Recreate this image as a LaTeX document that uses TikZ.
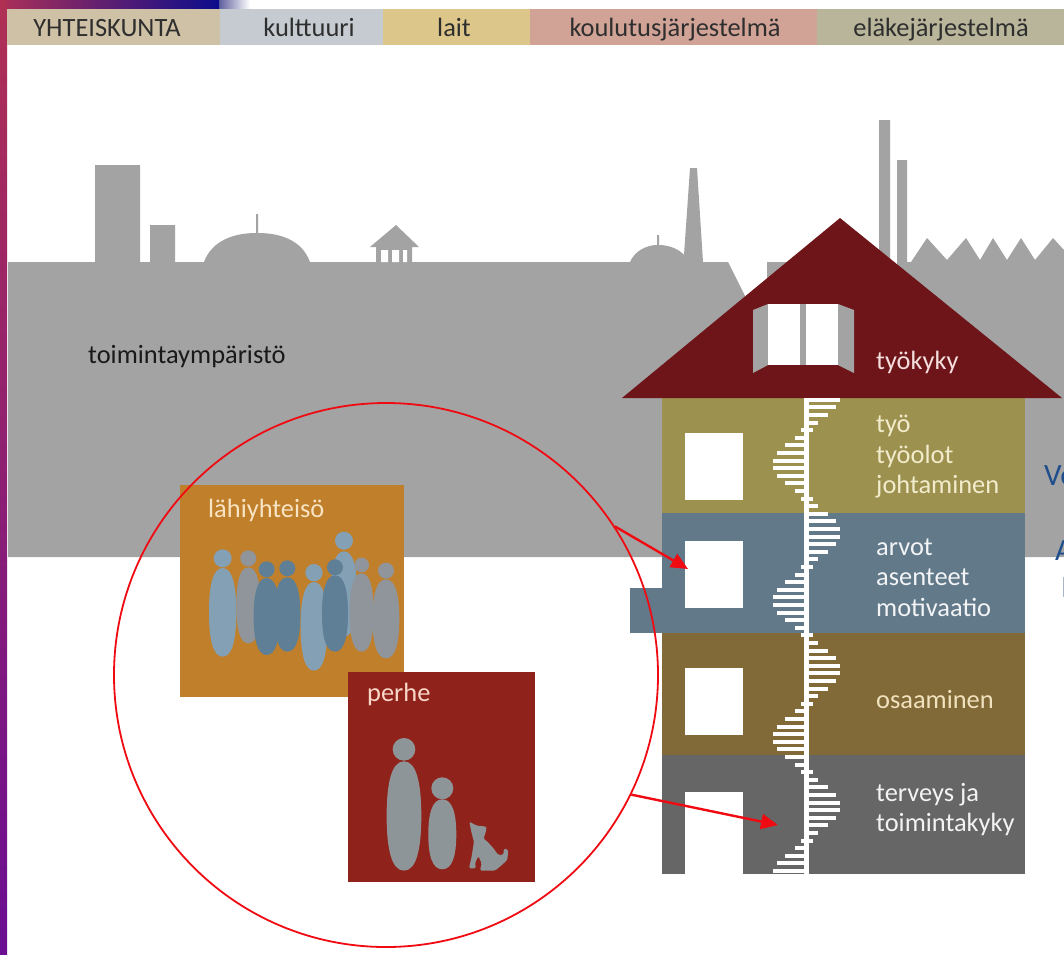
\documentclass[tikz,border=0pt]{standalone}
\usepackage{fontspec}
\setmainfont{Carlito}
\usetikzlibrary{arrows.meta}
\definecolor{sky}{HTML}{A3A3A3}
\definecolor{roofc}{HTML}{6D1519}
\definecolor{bandA}{HTML}{9C914F}
\definecolor{bandB}{HTML}{62798A}
\definecolor{bandC}{HTML}{826A38}
\definecolor{bandD}{HTML}{666666}
\definecolor{orangebox}{HTML}{C07F2B}
\definecolor{redbox}{HTML}{8F231B}
\definecolor{figL}{HTML}{84A0B4}
\definecolor{figG}{HTML}{8F959B}
\definecolor{figD}{HTML}{5F7F96}
\definecolor{figP}{HTML}{8E9598}
\definecolor{linkblue}{HTML}{1F4E8C}
\definecolor{arrowred}{HTML}{F00A12}
\tikzset{
  hdr/.style={anchor=base,inner sep=0pt,font=\fontsize{26.4}{26}\selectfont,text=black!82},
  lbl/.style={anchor=base west,inner sep=0pt,font=\fontsize{26.4}{26}\selectfont},
  cut/.style={anchor=base west,inner sep=0pt,font=\fontsize{31}{31}\selectfont,text=linkblue},
  bar/.style={line width=4pt,white},
  redarrow/.style={draw=arrowred,line width=2.4pt,-{Triangle[length=17pt,width=15pt,fill=arrowred]},shorten <=0pt}
}
% person: cx, head y, head r, body top, body bottom, half width, colour (zoom units)
\newcommand{\persona}[7]{%
  \fill[#7] (#1,#2) circle[x radius=#3,y radius=#3];
  \pgfmathsetmacro{\pmid}{(#4+#5)/2}%
  \pgfmathsetmacro{\pl}{#1-#6}%
  \pgfmathsetmacro{\pr}{#1+#6}%
  \pgfmathsetmacro{\qr}{#1+0.72*#6}%
  \pgfmathsetmacro{\ql}{#1-0.72*#6}%
  \pgfmathsetmacro{\pta}{#4+0.2*(#5-#4)}%
  \pgfmathsetmacro{\ptb}{#5-0.2*(#5-#4)}%
  \fill[#7] (#1,#4) .. controls (\qr,#4) and (\pr,\pta) .. (\pr,\pmid)
     .. controls (\pr,\ptb) and (\qr,#5) .. (#1,#5)
     .. controls (\ql,#5) and (\pl,\ptb) .. (\pl,\pmid)
     .. controls (\pl,\pta) and (\ql,#4) .. (#1,#4) -- cycle;
}
\begin{document}
\begin{tikzpicture}[x=1pt,y=-1pt]
\useasboundingbox (0,0) rectangle (1064,954);
\clip (0,0) rectangle (1064,954);
\fill[white] (0,0) rectangle (1064,954);
% corner gradients
\shade[left color=gray!75!blue,right color=white] (219,0) rectangle (250,9);
\shade[left color={rgb,255:red,172;green,48;blue,88},right color={rgb,255:red,12;green,12;blue,140}] (0,0) rectangle (219,9);
\shade[top color={rgb,255:red,176;green,48;blue,84},bottom color={rgb,255:red,106;green,14;blue,146}] (0,0) rectangle (7,954);
% header
\fill[fill={rgb,255:red,207;green,193;blue,165}] (7,9) rectangle (220,45);
\fill[fill={rgb,255:red,197;green,203;blue,208}] (220,9) rectangle (383,45);
\fill[fill={rgb,255:red,221;green,198;blue,138}] (383,9) rectangle (530,45);
\fill[fill={rgb,255:red,208;green,163;blue,150}] (530,9) rectangle (817,45);
\fill[fill={rgb,255:red,184;green,181;blue,154}] (817,9) rectangle (1064,45);
\node[hdr] (h1) at (107,36) {YHTEISKUNTA};
\node[hdr] (h2) at (309,36) {kulttuuri};
\node[hdr] (h3) at (454,36) {lait};
\node[hdr] (h4) at (675,36) {koulutusjärjestelmä};
\node[hdr] (h5) at (941,36) {eläkejärjestelmä};
% skyline
\fill[sky] (8,262) -- (95,262) -- (95,165) -- (140,165) -- (140,262) -- (150,262) -- (150,225) -- (175,225) -- (175,262)
  -- (204,262) .. controls (212,240) and (235,233) .. (256,233) -- (256,214) -- (258,214) -- (258,233)
  .. controls (280,233) and (302,240) .. (310,262)
  -- (376,262) -- (376,247) -- (370,247) -- (396,225) -- (419,247) -- (412,247) -- (412,262)
  -- (630,262) .. controls (635,250) and (648,245) .. (657,245) -- (657,235) -- (659,235) -- (659,245)
  .. controls (670,245) and (680,250) .. (684,255) -- (690,168) -- (697,168) -- (703,262)
  -- (728,262) -- (747,300) -- (747,557) -- (8,557) -- cycle;
\fill[white] (381,250) rectangle (388,262) (392,250) rectangle (399,262) (403,250) rectangle (407,262);
\fill[sky] (767,262) -- (840,262) -- (879,262) -- (879,120) -- (890,120) -- (890,270) -- (897,270) -- (897,160) -- (907,160)
  -- (907,262) -- (911,262) -- (927,238) -- (947,260) -- (966,238) -- (980,260) -- (993,238) -- (1007,260) -- (1021,238) -- (1035,260) -- (1053,238) -- (1064,250)
  -- (1064,557) -- (747,557) -- (747,400) -- (767,400) -- cycle;
\node[lbl,text=black!90] (env) at (88,363) {toimintaympäristö};
% house bands
\fill[bandA] (662,398) rectangle (1025,513);
\fill[bandB] (662,513) rectangle (1025,633);
\fill[bandB] (630,588) rectangle (662,633);
\fill[bandC] (662,633) rectangle (1025,755);
\fill[bandD] (662,755) rectangle (1025,874);
% roof
\fill[roofc] (840,218) -- (1062,398) -- (622,398) -- cycle;
\fill[sky] (753,310) -- (768,304) -- (768,365) -- (753,373) -- cycle;
\fill[sky] (838,304) -- (854,310) -- (854,373) -- (838,365) -- cycle;
\fill[white] (768,304) rectangle (838,365);
\fill[sky] (800,304) rectangle (806,365);
% windows and door
\fill[white] (685,433) rectangle (743,500);
\fill[white] (685,541) rectangle (743,608);
\fill[white] (685,668) rectangle (743,735);
\fill[white] (685,792) rectangle (743,874);
% stair wave
\fill[white] (804,398) rectangle (809,874);
\foreach \k in {-22,...,40}{
  \pgfmathsetmacro{\yy}{567+7.6*\k}
  \pgfmathsetmacro{\xe}{806.5+34*sin(2.6316*(567-\yy))}
  \draw[bar] (806.5,\yy) -- (\xe,\yy);
}
\foreach \k in {-18,-9,0,9,18,27,36}{
  \pgfmathsetmacro{\yy}{567+7.6*\k}
  \draw[bar] (801,\yy) -- (813,\yy);
}
% house labels
\node[lbl,text={rgb,255:red,244;green,222;blue,222}] (t0) at (876,369) {työkyky};
\node[lbl,text={rgb,255:red,242;green,236;blue,205}] (t1) at (876,432) {työ};
\node[lbl,text={rgb,255:red,242;green,236;blue,205}] (t2) at (876,463) {työolot};
\node[lbl,text={rgb,255:red,242;green,236;blue,205}] (t3) at (876,493) {johtaminen};
\node[lbl,text=white!92!bandB] (t4) at (876,555) {arvot};
\node[lbl,text=white!92!bandB] (t5) at (876,585) {asenteet};
\node[lbl,text=white!92!bandB] (t6) at (876,616) {motivaatio};
\node[lbl,text={rgb,255:red,240;green,226;blue,190}] (t7) at (876,708) {osaaminen};
\node[lbl,text=white!92!bandD] (t8) at (876,801) {terveys ja};
\node[lbl,text=white!92!bandD] (t9) at (876,831) {toimintakyky};
% partly visible text at the right edge
\node[cut] (c1) at (1044,485) {Ve};
\node[cut] (c2) at (1055,560) {A};
\node[cut,text=linkblue!55!gray] (c3) at (1061,597) {I};
% boxes
\fill[orangebox] (180,485) rectangle (404,697);
\fill[redbox] (348,672) rectangle (535,882);
\node[lbl,text={rgb,255:red,248;green,228;blue,195}] (lah) at (208,517) {lähiyhteisö};
\node[lbl,text={rgb,255:red,248;green,214;blue,200}] (per) at (367,701) {perhe};
% people (zoom coordinates)
\begin{scope}[shift={(170,480)},x=0.3333pt,y=-0.3333pt]
  \persona{235}{235}{24}{262}{490}{36}{figG}
  \persona{522}{182}{27}{214}{470}{40}{figL}
  \persona{575}{255}{22}{280}{515}{36}{figG}
  \persona{648}{272}{24}{298}{535}{40}{figG}
  \persona{158}{235}{27}{264}{530}{41}{figL}
  \persona{290}{268}{24}{294}{525}{39}{figD}
  \persona{352}{265}{24}{292}{515}{39}{figD}
  \persona{432}{278}{26}{306}{572}{40}{figL}
  \persona{495}{262}{24}{286}{515}{39}{figD}
  \persona{702}{808}{34}{844}{1172}{52}{figP}
  \persona{817}{925}{33}{958}{1168}{42}{figP}
  \fill[figP,rounded corners=1.5pt] (898,1025) -- (920,1037) -- (950,1040) -- (946,1062) -- (940,1075) -- (952,1085) -- (968,1102) -- (985,1125)
    -- (1000,1125) -- (1002,1105) -- (1015,1110) -- (1012,1140) -- (990,1160) -- (975,1172) -- (930,1172)
    -- (935,1150) -- (925,1128) -- (915,1150) -- (918,1165) -- (897,1165) -- (905,1130) -- (912,1085) -- (905,1060) -- cycle;
\end{scope}
% red circle and arrows
\node[draw=arrowred,line width=1.8pt,circle,minimum size=544pt,inner sep=0pt] (ring) at (386,675) {};
\coordinate (tipA) at (688,569);
\coordinate (tipB) at (778,825);
\draw[redarrow] (ring.33.8) -- (tipA);
\draw[redarrow] (ring.-26.6) -- (tipB);
\end{tikzpicture}
\end{document}
